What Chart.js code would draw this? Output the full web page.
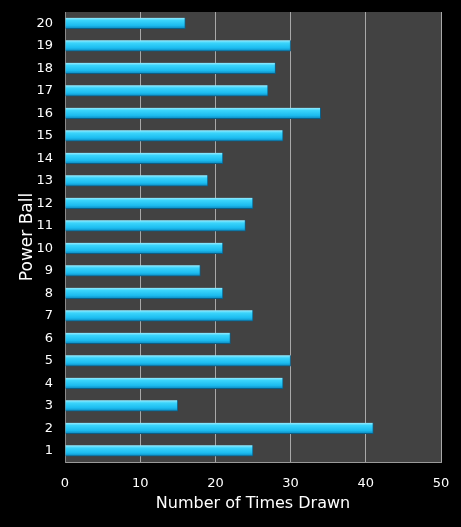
<!DOCTYPE html>
<html>
<head>
<meta charset="utf-8">
<script src="https://cdn.jsdelivr.net/npm/chart.js@4/dist/chart.umd.min.js"></script>
<style>
  html, body { margin: 0; padding: 0; background: #000; }
  #wrap { width: 461px; height: 527px; }
</style>
</head>
<body>
<div id="wrap"><canvas id="chart"></canvas></div>
<script>
const balls = ["1","2","3","4","5","6","7","8","9","10","11","12","13","14","15","16","17","18","19","20"];
const timesDrawn = [25, 41, 15, 29, 30, 22, 25, 21, 18, 21, 24, 25, 19, 21, 29, 34, 27, 28, 30, 16];
const xTicks = [0, 10, 20, 30, 40, 50];

const FONT = "'DejaVu Sans', Verdana, sans-serif";
const BAR_H = 11;

// fill plot area grey
const plotBg = {
  id: "plotBg",
  beforeDraw(chart) {
    const a = chart.chartArea;
    const ctx = chart.ctx;
    ctx.save();
    ctx.fillStyle = "#424242";
    ctx.fillRect(a.left, a.top, a.right - a.left, a.bottom - a.top);
    ctx.restore();
  }
};

function barGradient(context) {
  const chart = context.chart;
  if (!chart.chartArea) return "#22c4f2";
  const y = chart.scales.y.getPixelForValue(context.dataIndex);
  const g = chart.ctx.createLinearGradient(0, y - BAR_H / 2, 0, y + BAR_H / 2);
  g.addColorStop(0, "#9aecff");
  g.addColorStop(0.25, "#3ad4fb");
  g.addColorStop(0.7, "#1cbcf0");
  g.addColorStop(1, "#0c86bc");
  return g;
}

new Chart(document.getElementById("chart"), {
  type: "bar",
  data: {
    labels: balls,
    datasets: [{
      data: timesDrawn,
      backgroundColor: barGradient,
      borderColor: "#0a5f88",
      borderWidth: { top: 0, right: 1, bottom: 1, left: 0 },
      borderSkipped: false,
      barThickness: BAR_H
    }]
  },
  plugins: [plotBg],
  options: {
    indexAxis: "y",
    responsive: true,
    maintainAspectRatio: false,
    animation: false,
    layout: { padding: { top: 12, right: 20, left: 0, bottom: 0 } },
    plugins: { legend: { display: false }, tooltip: { enabled: false } },
    scales: {
      x: {
        min: 0,
        max: 50,
        afterBuildTicks(scale) { scale.ticks = xTicks.map(v => ({ value: v })); },
        afterFit(scale) {
          scale.height = 65;
          scale.paddingLeft = 0;
          scale.paddingRight = 0;
        },
        grid: { color: "#a8a8a8", lineWidth: 1, drawTicks: false },
        border: { color: "#9a9a9a", width: 1 },
        ticks: { color: "#fff", padding: 14, font: { family: FONT, size: 13 } },
        title: {
          display: true,
          text: "Number of Times Drawn",
          color: "#fff",
          padding: { top: 4, bottom: 14 },
          font: { family: FONT, size: 16 }
        }
      },
      y: {
        reverse: true,
        afterFit(scale) {
          scale.width = 65;
          scale.paddingTop = 0;
          scale.paddingBottom = 0;
        },
        grid: { display: false, drawTicks: false },
        border: { color: "#8a8a8a", width: 1 },
        ticks: { color: "#fff", padding: 12, font: { family: FONT, size: 13 } },
        title: {
          display: true,
          text: "Power Ball",
          color: "#fff",
          padding: { top: 17, bottom: 0 },
          font: { family: FONT, size: 17 }
        }
      }
    }
  }
});
</script>
</body>
</html>
